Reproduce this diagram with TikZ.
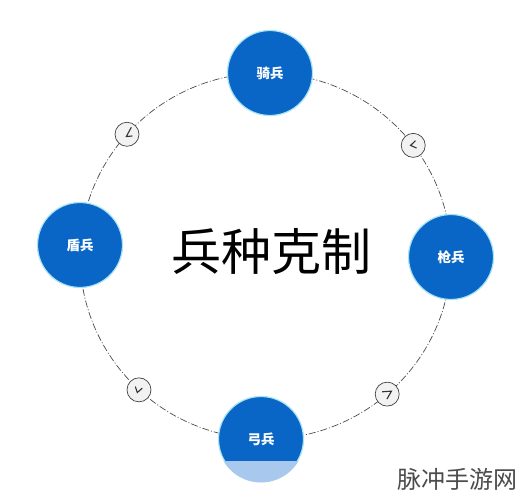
\documentclass[tikz,border=0pt]{standalone}
\usepackage{fontspec}
\setmainfont{Noto Sans CJK SC}
\definecolor{nodeblue}{HTML}{0A66C6}
\definecolor{glow}{HTML}{A6E4F4}
\definecolor{paleblue}{HTML}{A9C8EE}
\begin{document}
\begin{tikzpicture}[x=1pt,y=-1pt,
  unit/.style={circle, fill=nodeblue, draw=glow, line width=1.2pt, minimum size=85pt, inner sep=0pt, text=white, font=\bfseries\fontsize{13.5}{14}\selectfont},
  marker/.style={circle, draw=black!75, fill=black!5, line width=0.7pt, minimum size=24pt, inner sep=0pt},
  ring/.style={draw=black!70, line width=0.7pt, dash pattern=on 7pt off 2pt on 1pt off 2pt},
  chev/.style={draw=black!80, line width=1.1pt, line join=miter}]
\useasboundingbox[fill=white] (0,0) rectangle (520,500);
\coordinate (ctr) at (265.5,256);
\coordinate (ctop) at (270,73);
\coordinate (cright) at (451,257);
\coordinate (cbottom) at (261,439);
\coordinate (cleft) at (80,245);
\path (ctr) ++(221.7:185.5 and 183) coordinate (m1);
\path (ctr) ++(322.8:185.5 and 183) coordinate (m2);
\path (ctr) ++(49:185.5 and 183) coordinate (m3);
\path (ctr) ++(133:185.5 and 183) coordinate (m4);
\draw[ring] (ctr) ellipse [x radius=185.5pt, y radius=183pt];
\node[marker] (k1) at (m1) {};
\node[marker] (k2) at (m2) {};
\node[marker] (k3) at (m3) {};
\node[marker] (k4) at (m4) {};
\draw[chev, shift={(k1.center)}] (4.3,-7) -- (-0.7,2.3) -- (5.3,1.7);
\draw[chev, shift={(k2.center)}] (2.3,-4.7) -- (-2.7,0) -- (3.3,2.7);
\draw[chev, shift={(k3.center)}] (-5,-2.3) -- (4.3,-3) -- (-0.3,5);
\draw[chev, shift={(k4.center)}] (-3.7,-3.3) -- (-1.7,2.7) -- (3.3,-1.7);
\node[unit] (qi) at (ctop) {骑兵};
\node[unit] (qiang) at (cright) {枪兵};
\node[unit] (dun) at (cleft) {盾兵};
\node[unit] (gong) at (cbottom) {弓兵};
\begin{scope}
  \clip (0,461) rectangle (520,500);
  \fill[paleblue] (gong.center) circle (43.5pt);
\end{scope}
\node (title) at (271,252) {\fontsize{50}{50}\selectfont 兵种克制};
\node[anchor=east, text=black!70, inner sep=0pt] (mark) at (518,479) {\fontsize{24}{24}\selectfont 脉冲手游网};
\end{tikzpicture}
\end{document}
